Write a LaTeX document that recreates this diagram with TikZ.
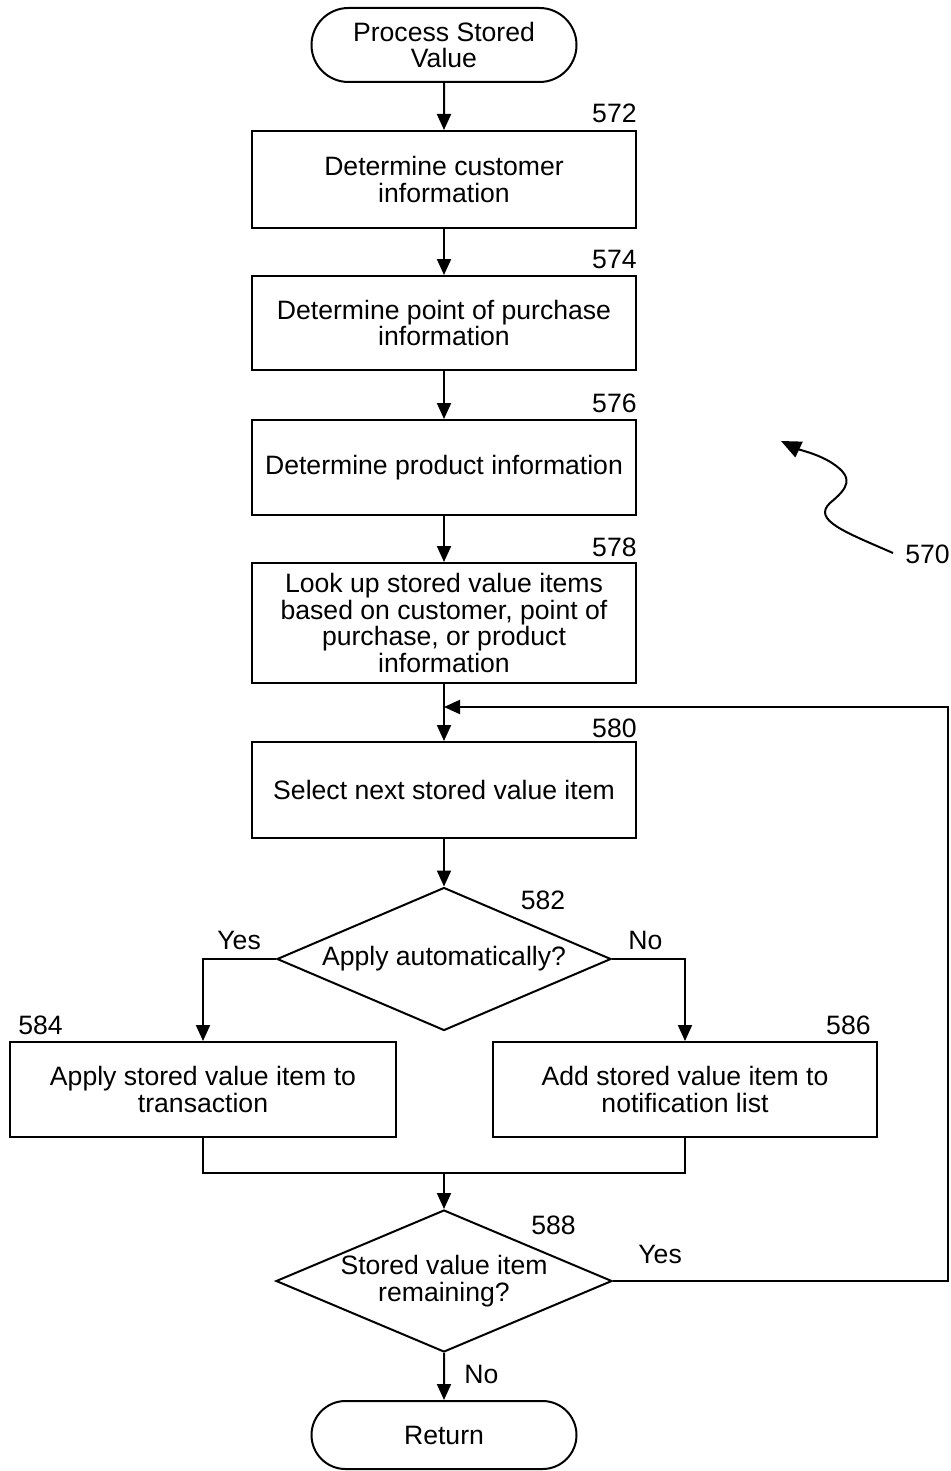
\documentclass[tikz,border=0pt]{standalone}
\usepackage{fontspec}
\setmainfont{Liberation Sans}
\usetikzlibrary{shapes.geometric,shapes.misc,arrows.meta}
\begin{document}
\begin{tikzpicture}[x=0.5pt,y=-0.5pt,
  every node/.style={font=\fontsize{13.3}{13.2}\selectfont},
  line/.style={line width=1pt,draw=black},
  arr/.style={line, -{Triangle[length=8pt,width=7pt]}},
  term/.style={rounded rectangle, draw, line width=1pt, minimum width=132.5pt, minimum height=37pt, inner sep=0pt, align=center},
  stepbox/.style={rectangle, draw, line width=1pt, minimum width=192pt, inner sep=0pt, align=center},
  decision/.style={diamond, draw, line width=1pt, inner sep=0pt},
  lbl/.style={inner sep=0pt}
]
\useasboundingbox (0,0) rectangle (951,1471);

\node[term] (start) at (444,45) {Process Stored\\Value};
\node[stepbox, minimum height=48.5pt] (b572) at (444,179.5) {Determine customer\\information};
\node[stepbox, minimum height=47pt] (b574) at (444,323) {Determine point of purchase\\information};
\node[stepbox, minimum height=47.5pt] (b576) at (444,467.5) {Determine product information};
\node[stepbox, minimum height=60pt] (b578) at (444,623) {Look up stored value items\\based on customer, point of\\purchase, or product\\information};
\node[stepbox, minimum height=48pt] (b580) at (444,790) {Select next stored value item};
\node[decision, minimum width=167pt, minimum height=71.5pt] (d582) at (444,959) {};
\node at (d582) {Apply automatically?};
\node[stepbox, minimum width=193pt, minimum height=47.5pt] (b584) at (203,1089.5) {Apply stored value item to\\transaction};
\node[stepbox, minimum height=47.5pt] (b586) at (685,1089.5) {Add stored value item to\\notification list};
\node[decision, minimum width=168pt, minimum height=71pt] (d588) at (444,1281) {};
\node[align=center] (t588) at (444,1281) {Stored value item\\remaining?};
\node[term, minimum height=34pt] (ret) at (444,1435) {Return};

% reference numbers
\node[lbl, anchor=base east] (n572) at (637,123) {572};
\node[lbl, anchor=base east] (n574) at (637,268) {574};
\node[lbl, anchor=base east] (n576) at (637,412) {576};
\node[lbl, anchor=base east] (n578) at (637,556) {578};
\node[lbl, anchor=base east] (n580) at (637,737) {580};
\node[lbl, anchor=base] (n582) at (543,909) {582};
\node[lbl, anchor=base west] (n584) at (18,1034) {584};
\node[lbl, anchor=base east] (n586) at (871,1034) {586};
\node[lbl, anchor=base west] (n588) at (531,1234) {588};
\node[lbl, anchor=base west] (n570) at (905,563) {570};
\node[lbl, anchor=base west] (yes1) at (217,949) {Yes};
\node[lbl, anchor=base west] (no1) at (628,949) {No};
\node[lbl, anchor=base west] (yes2) at (638,1263) {Yes};
\node[lbl, anchor=base west] (no2) at (464,1383) {No};

% connectors
\draw[arr] (start) -- (b572);
\draw[arr] (b572) -- (b574);
\draw[arr] (b574) -- (b576);
\draw[arr] (b576) -- (b578);
\draw[arr] (b578) -- (b580);
\draw[arr] (b580) -- (d582);
\draw[arr] (d582.west) -| (b584.north);
\draw[arr] (d582.east) -| (b586.north);
\coordinate (m) at (444,1173);
\draw[line] (b584.south) |- (m) -| (b586.south);
\draw[arr] (m) -- (d588.north);
\draw[arr] (d588.south) -- (ret);
\coordinate (cr) at (948,1281);
\coordinate (lj) at (444,707);
\draw[arr] (d588.east) -- (cr) |- (lj);

% 570 squiggle
\coordinate (s0) at (893,553);
\coordinate (s1) at (781,441);
\draw[line width=1pt, -{Triangle[length=10pt,width=8.5pt]}] (s0) .. controls (845,532) and (812,520) .. (830,503)
  .. controls (848,488) and (855,478) .. (832,463) .. controls (818,454) and (800,450) .. (s1);
\end{tikzpicture}
\end{document}
